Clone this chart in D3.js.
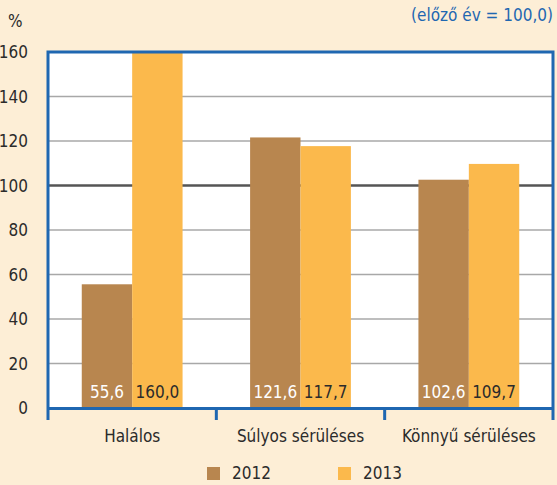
<!DOCTYPE html>
<html>
<head>
<meta charset="utf-8">
<script src="https://cdn.jsdelivr.net/npm/d3@7"></script>
<style>
body{margin:0;background:#fdeed6;}
text{font-family:"Liberation Sans Narrow","DejaVu Sans Condensed","Open Sans",sans-serif;}
</style>
</head>
<body>
<script>
var categories=["Halálos","Súlyos sérüléses","Könnyű sérüléses"];
var series=["2012","2013"];
var values2012=[55.6,121.6,102.6];
var values2013=[160.0,117.7,109.7];
var yTicks=[0,20,40,60,80,100,120,140,160];
var colors=["#b8864f","#fbb94c"];

var width=557,height=485;
var m={left:48,right:4,top:52,bottom:77};
var svg=d3.select("body").append("svg").attr("width",width).attr("height",height);
svg.append("rect").attr("width",width).attr("height",height).attr("fill","#fdeed6");

var x=d3.scaleBand().domain(categories).range([m.left,width-m.right]);
var xs=d3.scaleBand().domain(series).range([0,x.bandwidth()]).paddingOuter(0.67);
var y=d3.scaleLinear().domain([0,160]).range([height-m.bottom,m.top]);

var g=svg.append("g");
g.append("rect").attr("x",m.left).attr("y",m.top)
	.attr("width",width-m.left-m.right).attr("height",y(0)-m.top).attr("fill","#fff");

g.selectAll(".grid").data(yTicks.filter(function(d){return d>0&&d<160;}))
	.enter().append("line")
	.attr("x1",m.left).attr("x2",width-m.right)
	.attr("y1",function(d){return y(d);}).attr("y2",function(d){return y(d);})
	.attr("stroke",function(d){return d==100?"#555":"#a8a8a8";})
	.attr("stroke-width",function(d){return d==100?2.5:1.3;});

var data=[];
categories.forEach(function(c,i){
	data.push({c:c,s:"2012",v:values2012[i]});
	data.push({c:c,s:"2013",v:values2013[i]});
});

g.selectAll(".bar").data(data).enter().append("rect")
	.attr("x",function(d){return x(d.c)+xs(d.s);})
	.attr("width",xs.bandwidth())
	.attr("y",function(d){return y(d.v);})
	.attr("height",function(d){return y(0)-y(d.v);})
	.attr("fill",function(d){return d.s=="2012"?colors[0]:colors[1];});

g.selectAll(".lbl").data(data).enter().append("text")
	.attr("x",function(d){return x(d.c)+xs(d.s)+xs.bandwidth()/2;})
	.attr("y",y(0)-10)
	.attr("text-anchor","middle")
	.attr("font-size",17)
	.attr("fill",function(d){return d.s=="2012"?"#fff":"#2b2b2b";})
	.text(function(d){return d3.format(".1f")(d.v).replace(".",",");});

// frame
var blue="#1f67b1";
g.append("path")
	.attr("d","M"+m.left+","+y(0)+"V"+m.top+"H"+(width-m.right)+"V"+y(0))
	.attr("fill","none").attr("stroke",blue).attr("stroke-width",3);

var xAxis=g.append("g").attr("transform","translate(0,"+y(0)+")")
	.call(d3.axisBottom(x).tickSize(0).tickSizeOuter(0));
xAxis.select(".domain").attr("stroke",blue).attr("stroke-width",3);
xAxis.selectAll("text").attr("font-size",17).attr("fill","#2b2b2b").attr("dy",31);
var bounds=categories.map(function(c){return x(c);}).concat([x(categories[2])+x.bandwidth()]);
xAxis.selectAll(".sep").data(bounds).enter().append("line")
	.attr("x1",function(d){return d;}).attr("x2",function(d){return d;})
	.attr("y1",0).attr("y2",12).attr("stroke",blue).attr("stroke-width",3);

var yAxis=g.append("g").attr("transform","translate("+(m.left-17)+",0)")
	.call(d3.axisLeft(y).tickValues(yTicks).tickSize(0));
yAxis.select(".domain").remove();
yAxis.selectAll("text").attr("font-size",17).attr("fill","#2b2b2b").attr("dy","0.35em");

svg.append("text").attr("x",8).attr("y",27).attr("font-size",17).attr("fill","#2b2b2b").text("%");
svg.append("text").attr("x",553).attr("y",21).attr("text-anchor","end")
	.attr("font-size",17).attr("fill",blue).text("(előző év = 100,0)");

// legend
var leg=svg.selectAll(".leg").data(series).enter().append("g")
	.attr("transform",function(d,i){return "translate("+(207+i*131)+",467)";});
leg.append("rect").attr("width",13).attr("height",13).attr("fill",function(d,i){return colors[i];});
leg.append("text").attr("x",25).attr("y",12).attr("font-size",17).attr("fill","#2b2b2b")
	.text(function(d){return d;});
</script>
</body>
</html>
